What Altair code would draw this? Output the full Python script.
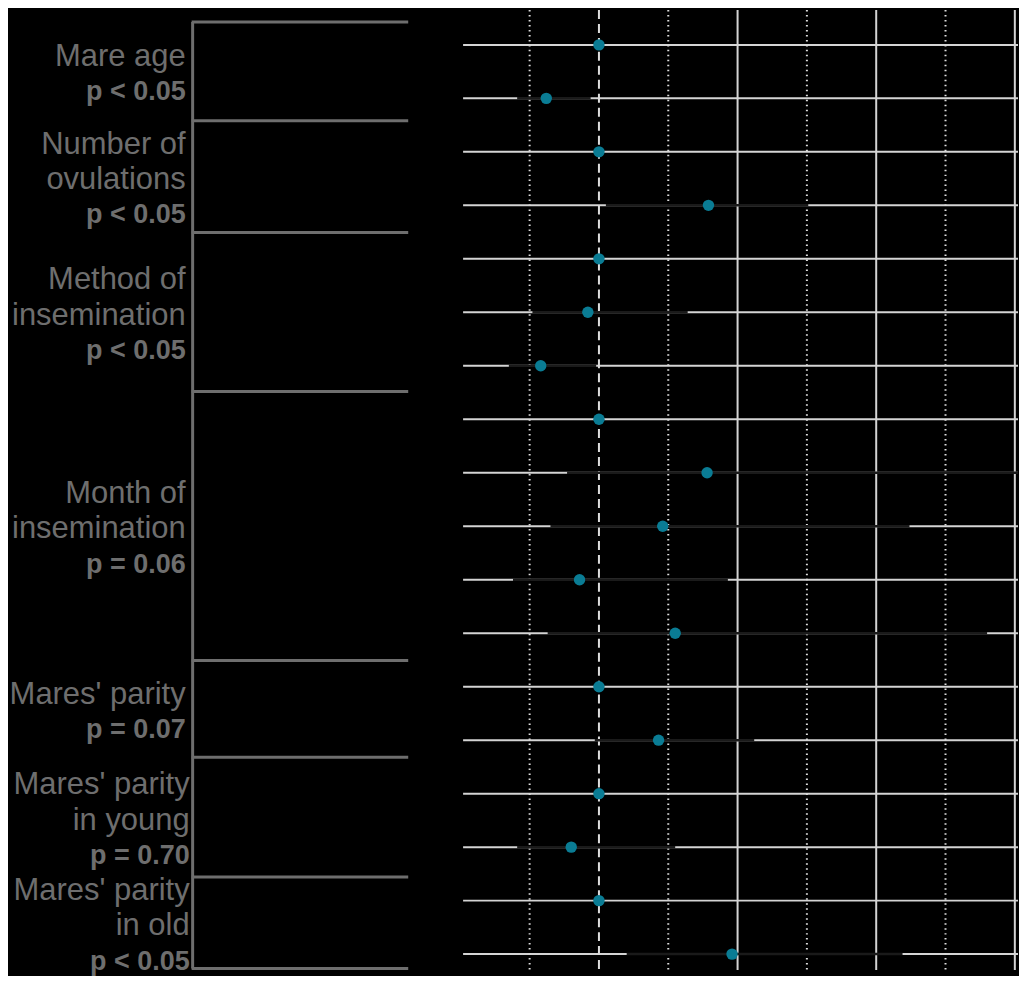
import altair as alt
import pandas as pd

# ---- data ----
rows = list(range(1, 19))
estimate = [1.00, 0.62, 1.00, 1.79, 1.00, 0.92, 0.58, 1.00, 1.78, 1.46, 0.86, 1.55,
            1.00, 1.43, 1.00, 0.80, 1.00, 1.96]
ci_low = [1.00, 0.41, 1.00, 1.05, 1.00, 0.52, 0.35, 1.00, 0.77, 0.65, 0.38, 0.63,
          1.00, 0.97, 1.00, 0.41, 1.00, 1.20]
ci_high = [1.00, 0.94, 1.00, 2.51, 1.00, 1.64, 0.98, 1.00, 4.05, 3.24, 1.93, 3.80,
           1.00, 2.12, 1.00, 1.55, 1.00, 3.19]

group_labels = ["Mare age", "Number of\novulations", "Method of\ninsemination",
                "Month of\ninsemination", "Mares' parity", "Mares' parity\nin young",
                "Mares' parity\nin old"]
group_pvalues = ["p < 0.05", "p < 0.05", "p < 0.05", "p = 0.06", "p = 0.07",
                 "p = 0.70", "p < 0.05"]
group_bounds = [0.57, 2.42, 4.51, 7.48, 12.51, 14.32, 16.56, 18.27]

major_ticks = [2, 3, 4]
minor_ticks = [0.5, 1.5, 2.5, 3.5]
reference_value = [1]

# ---- layout constants ----
H = 962
LW = 455
RW = 556
PX_PER_ROW = 53.59
PX_PER_UNIT = 138.9
LINE_STEP = 35.3 / PX_PER_ROW
TEXT_SHIFT = 3.5 / PX_PER_ROW

# ---- tables ----
est_df = pd.DataFrame({"row": rows, "est": estimate, "lo": ci_low, "hi": ci_high})

line_recs = []
for g, (lab, p, top, bot) in enumerate(zip(group_labels, group_pvalues,
                                            group_bounds[:-1], group_bounds[1:])):
    parts = lab.split("\n") + [p]
    n = len(parts)
    mid = (top + bot) / 2
    for i, t in enumerate(parts):
        line_recs.append({
            "text": t,
            "y": mid + (i - (n - 1) / 2) * LINE_STEP + TEXT_SHIFT,
            "bold": i == n - 1,
            "g": g,
        })
lines_df = pd.DataFrame(line_recs)
bounds_df = pd.DataFrame({"b": group_bounds})
span_df = pd.DataFrame({"top": [group_bounds[0]], "bottom": [group_bounds[-1]]})

ydom = [0.347, 0.347 + H / PX_PER_ROW]
yscale = alt.Scale(domain=ydom, reverse=True, nice=False, zero=False)
xscale = alt.Scale(domain=[0.02, 0.02 + RW / PX_PER_UNIT], nice=False, zero=False)

FONT = "Liberation Sans"
GREY = "#6e6e6e"

# ---- left panel ----
vbar = alt.Chart(span_df).mark_rule(color=GREY, strokeWidth=3).encode(
    x=alt.value(185),
    y=alt.Y("top:Q", scale=yscale, axis=None),
    y2="bottom:Q",
)
hbars = alt.Chart(bounds_df).mark_rule(color=GREY, strokeWidth=3).encode(
    x=alt.value(184),
    x2=alt.value(401),
    y=alt.Y("b:Q", scale=yscale, axis=None),
)


def text_layer(filt, size, weight, xpos):
    return alt.Chart(lines_df).transform_filter(filt).mark_text(
        align="right", baseline="middle", font=FONT, fontSize=size,
        fontWeight=weight, color=GREY,
    ).encode(
        x=alt.value(xpos),
        y=alt.Y("y:Q", scale=yscale, axis=None),
        text="text:N",
    )


labels_a = text_layer("!datum.bold && datum.g < 5", 31, "normal", 178)
labels_b = text_layer("!datum.bold && datum.g >= 5", 31, "normal", 182)
pvals_a = text_layer("datum.bold && datum.g < 5", 27, "bold", 178)
pvals_b = text_layer("datum.bold && datum.g >= 5", 27, "bold", 182)
left = alt.layer(vbar, hbars, labels_a, labels_b, pvals_a, pvals_b).properties(
    width=LW, height=H)

# ---- right panel ----
rowlines = alt.Chart(est_df).mark_rule(color="#d4d4d4", strokeWidth=2).encode(
    x=alt.value(0), x2=alt.value(RW),
    y=alt.Y("row:Q", scale=yscale, axis=None),
)
minor = alt.Chart(pd.DataFrame({"v": minor_ticks})).mark_rule(
    color="#dddddd", strokeWidth=2, strokeDash=[1.5, 3.5]
).encode(
    x=alt.X("v:Q", scale=xscale, axis=None), y=alt.value(0), y2=alt.value(H)
)
major = alt.Chart(pd.DataFrame({"v": major_ticks})).mark_rule(
    color="#d4d4d4", strokeWidth=2, clip=True
).encode(
    x=alt.X("v:Q", scale=xscale, axis=None), y=alt.value(0), y2=alt.value(H)
)
ref = alt.Chart(pd.DataFrame({"v": reference_value})).mark_rule(
    color="#dddddd", strokeWidth=2, strokeDash=[9, 5]
).encode(
    x=alt.X("v:Q", scale=xscale, axis=None), y=alt.value(0), y2=alt.value(H)
)
ci = alt.Chart(est_df).mark_rule(color="#1a1a1a", strokeWidth=2.5, clip=True).encode(
    x=alt.X("lo:Q", scale=xscale, axis=None),
    x2="hi:Q",
    y=alt.Y("row:Q", scale=yscale, axis=None),
)
pts = alt.Chart(est_df).mark_circle(color="#0a7c94", opacity=1, size=130).encode(
    x=alt.X("est:Q", scale=xscale, axis=None),
    y=alt.Y("row:Q", scale=yscale, axis=None),
)
right = alt.layer(rowlines, minor, major, ref, ci, pts).properties(width=RW, height=H)

chart = alt.hconcat(left, right, spacing=0).configure(
    background="black", padding=0
).configure_view(stroke=None).configure_concat(spacing=0)

chart.save("out.html", embed_options={"renderer": "svg", "actions": False})
